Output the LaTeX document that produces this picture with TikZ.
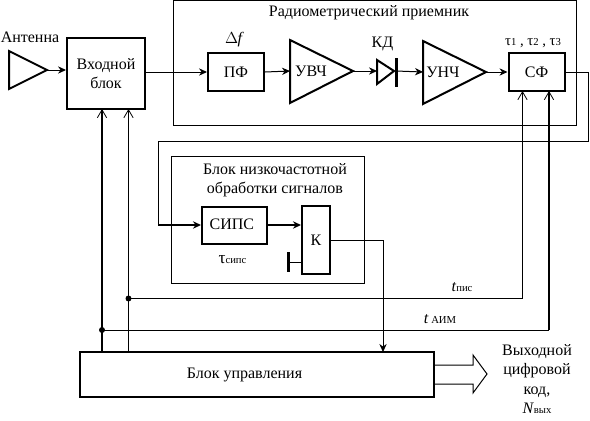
\documentclass[tikz,border=0pt]{standalone}
\usepackage{fontspec}
\setmainfont{Liberation Serif}
\usetikzlibrary{arrows.meta,calc}
\tikzset{
 block/.style={draw,line width=1.5pt,inner sep=0pt,align=center},
 frame/.style={draw,line width=0.75pt},
 amp/.style={draw,line width=1.5pt,line join=miter},
 thinline/.style={line width=0.75pt},
 boldline/.style={line width=1.5pt},
 dot/.style={circle,fill,inner sep=0pt,minimum size=4.5pt},
 lbl/.style={inner sep=0pt,align=center},
 arr/.style={-{Stealth[length=6pt,width=5.5pt]}},
 openarr/.style={-{Straight Barb[length=6pt,width=7pt,line width=0.6pt]}}
}
\newcommand{\sm}[1]{{\fontsize{8}{9}\selectfont #1}}
\begin{document}
\begin{tikzpicture}[x=0.75pt,y=-0.75pt,>=stealth,font=\fontsize{12}{14}\selectfont]
 \useasboundingbox (0,0) rectangle (590,421);
 % frames
 \draw[frame] (173,0) rectangle (576,125);
 \draw[frame] (171,156) rectangle (364,283);
 \node[lbl] (radio) at (369,13) {Радиометрический приемник};
 \node[lbl] (lowblock) at (275,180.5) {Блок низкочастотной\\обработки сигналов};
 % receiver
 \draw[amp] (9,51) -- (9,89) -- (47,70) -- cycle;
 \coordinate (antout) at (47,70);
 \node[lbl] (antlabel) at (30,37) {Антенна};
 \node[block,minimum width=78pt*0.75,minimum height=71pt*0.75] (input) at (106,73.5) {Входной\\блок};
 \node[block,minimum width=56pt*0.75,minimum height=38pt*0.75] (pf) at (236,72) {ПФ};
 \node[lbl] (df) at (234.5,40) {$\Delta\kern-0.5pt$\textit{f}};
 \draw[amp] (290,40) -- (290,103) -- (353,71) -- cycle;
 \coordinate (uvchin) at (290,71);
 \coordinate (uvchout) at (353,71);
 \node[lbl] (uvch) at (311,71) {УВЧ};
 \draw[amp] (377,60) -- (377,84) -- (394,71) -- cycle;
 \draw[line width=2.25pt] (396,58) -- (396,87);
 \coordinate (kdin) at (377,71);
 \coordinate (kdout) at (396,71);
 \node[lbl] (kd) at (382.5,44) {КД};
 \draw[amp] (423,41) -- (423,104) -- (486,72) -- cycle;
 \coordinate (unchin) at (423,72);
 \coordinate (unchout) at (486,72);
 \node[lbl] (unch) at (443,72) {УНЧ};
 \node[block,minimum width=56pt*0.75,minimum height=38pt*0.75] (sf) at (536.5,72) {СФ};
 \node[lbl] (taus) at (533,43) {\fontsize{11}{12}\selectfont τ\sm{1} , τ\sm{2} , τ\sm{3}};
 % low frequency block
 \node[block,minimum width=65pt*0.75,minimum height=37pt*0.75] (sips) at (234.5,225) {\raisebox{1.5pt}{СИПС}\kern4pt};
 \node[lbl] (tausips) at (232.5,260) {\fontsize{13}{14}\selectfont τ\sm{сипс}};
 \node[block,minimum width=28pt*0.75,minimum height=68pt*0.75] (key) at (316,240) {К};
 \coordinate (gnd) at (288,262);
 \draw[line width=2.25pt] (288,252) -- (288,272);
 % control
 \node[block,minimum width=354pt*0.75,minimum height=45pt*0.75] (ctrl) at (257,374.5) {Блок управления\kern18.8pt};
 \node[lbl] (output) at (537,379) {Выходной\\[0.5pt]цифровой\\[0.5pt]код,\\[0.5pt]\textit{N}\sm{вых}};
 \node[lbl] (tpis) at (462,287) {\textit{t}\sm{пис}};
 \node[lbl] (taim) at (440,319) {\textit{t}\,\sm{АИМ}};
 % signal path
 \draw[thinline,arr] (antout) -- (input.west |- antout);
 \draw[thinline,arr] (input.east |- pf) -- (pf.west);
 \draw[thinline,arr] (pf.east) -- (uvchin);
 \draw[thinline,arr] (uvchout) -- (kdin);
 \draw[thinline,arr] (kdout) -- (unchin);
 \draw[thinline,arr] (unchout) -- (sf.west);
 \draw[thinline] (sf.east) -- (588,72) -- (588,141) -- (158,141) -- (158,225);
 \draw[boldline,arr] (158,225) -- (sips.west);
 \draw[boldline,arr] (sips.east) -- (key.west |- sips);
 \draw[thinline] (gnd) -- (gnd -| key.west);
 \draw[thinline,arr] (key.east) -- (383,240) -- (383,352);
 % control lines
 \node[dot] (dotpis) at (128.5,298.5) {};
 \node[dot] (dotaim) at (102,330) {};
 \draw[boldline,openarr] (102,352) -- (102,109);
 \draw[thinline,openarr] (128.5,352) -- (128.5,109);
 \draw[thinline,openarr] (dotpis.center) -- (522.5,298.5) -- (522.5,91);
 \draw[thinline] (dotaim.center) -- (549,330);
 \draw[boldline,openarr] (549,330.4) -- (549,91);
 % output arrow
 \draw[thinline] (434,365) -- (473,365) -- (473,355) -- (487,374) -- (473,393) -- (473,384) -- (434,384);
\end{tikzpicture}
\end{document}
